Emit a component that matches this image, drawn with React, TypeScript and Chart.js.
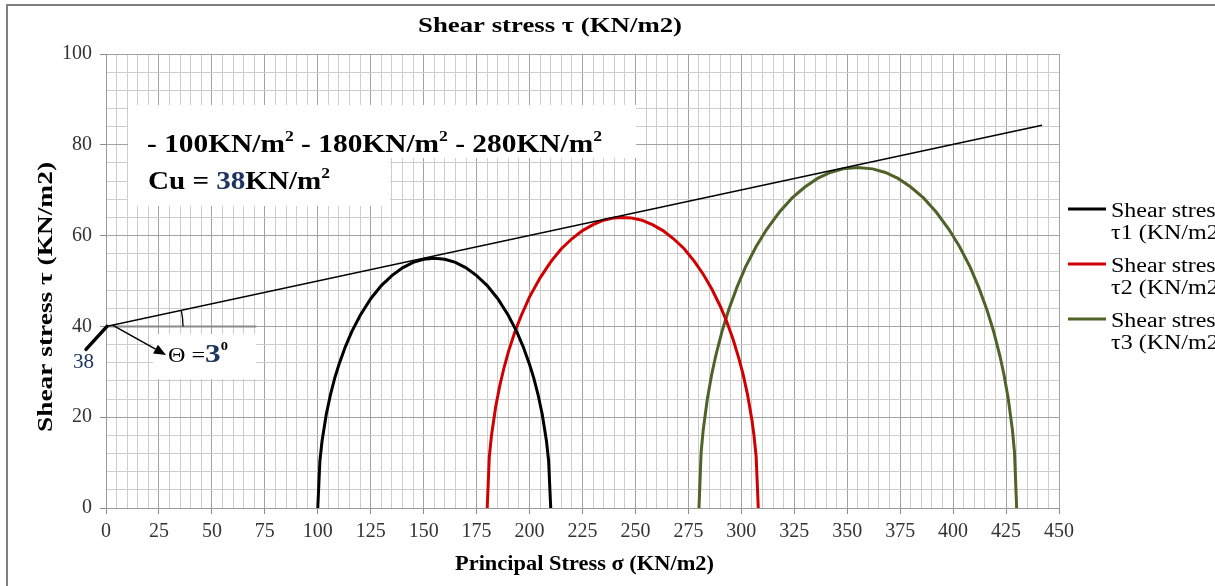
import React, { useEffect, useRef } from 'react';
import { Chart, registerables } from 'chart.js';

Chart.register(...registerables);

// ---------- data ----------
const xMin = 0;
const xMax = 450;
const yMin = 0;
const yMax = 100;
const xStep = 5;
const xMajorStep = 25;
const yStep = 4;
const yMajorStep = 20;

// Mohr-Coulomb failure envelope
const envelopeX = [0, 442];
const envelopeY = [40, 84.3];

// horizontal reference line at c
const refX = [0, 71];
const refY = [40, 40];

// Mohr circle 1 (sigma3 = 100)
const sigma1X = [100, 101, 102, 104, 106, 108, 110, 113, 116, 120, 125, 130, 135, 140, 145, 150, 155, 160, 165, 170, 175, 180, 185, 190, 194, 197, 200, 202, 204, 206, 208, 209, 210];
const tau1Y = [0, 10.4, 14.7, 20.6, 25.0, 28.6, 31.6, 35.5, 38.8, 42.4, 46.1, 49.0, 51.2, 52.9, 54.1, 54.8, 55.0, 54.8, 54.1, 52.9, 51.2, 49.0, 46.1, 42.4, 38.8, 35.5, 31.6, 28.6, 25.0, 20.6, 14.7, 10.4, 0];

// Mohr circle 2 (sigma3 = 180)
const sigma2X = [180, 181, 182, 184, 186, 188, 190, 193, 196, 200, 205, 210, 215, 220, 225, 230, 235, 240, 244, 248, 253, 258, 263, 268, 273, 278, 282, 286, 290, 293, 296, 299, 301, 303, 305, 306, 307, 308];
const tau2Y = [0, 11.3, 15.9, 22.3, 27.1, 31.0, 34.4, 38.7, 42.3, 46.5, 50.7, 54.2, 57.1, 59.3, 61.1, 62.4, 63.4, 63.9, 64.0, 63.9, 63.4, 62.4, 61.1, 59.3, 57.1, 54.2, 51.5, 48.3, 44.5, 41.2, 37.3, 32.7, 29.1, 24.8, 19.4, 15.9, 11.3, 0];

// Mohr circle 3 (sigma3 = 280)
const sigma3X = [280, 281, 282, 284, 286, 288, 291, 294, 298, 302, 307, 312, 318, 324, 330, 336, 342, 348, 355, 362, 368, 374, 380, 386, 392, 398, 403, 408, 412, 416, 419, 422, 424, 426, 428, 429, 430];
const tau3Y = [0, 12.2, 17.2, 24.2, 29.4, 33.7, 39.1, 43.6, 48.7, 53.1, 57.6, 61.4, 65.2, 68.3, 70.7, 72.6, 73.9, 74.7, 75.0, 74.7, 73.9, 72.6, 70.7, 68.3, 65.2, 61.4, 57.6, 53.1, 48.7, 43.6, 39.1, 33.7, 29.4, 24.2, 17.2, 12.2, 0];

const seriesLabels1 = ['Shear stress', 'τ1 (KN/m2)'];
const seriesLabels2 = ['Shear stress', 'τ2 (KN/m2)'];
const seriesLabels3 = ['Shear stress', 'τ3 (KN/m2)'];
const seriesColors = ['#000000', '#d00000', '#4f6228'];

const chartTitle = 'Shear stress τ (KN/m2)';
const xTitle = 'Principal Stress σ (KN/m2)';
const yTitle = 'Shear stress τ (KN/m2)';

// ---------- style ----------
const SERIF = '"Liberation Serif", "Times New Roman", Times, serif';
const NAVY = '#1f3560';

type Run = { text: string; font: string; color?: string; dy?: number };

function runsWidth(ctx: CanvasRenderingContext2D, runs: Run[]) {
  let w = 0;
  for (const r of runs) {
    ctx.font = r.font;
    w += ctx.measureText(r.text).width;
  }
  return w;
}

function drawRuns(ctx: CanvasRenderingContext2D, runs: Run[], x: number, y: number, stretch: number) {
  let cx = x;
  for (const r of runs) {
    ctx.save();
    ctx.font = r.font;
    ctx.fillStyle = r.color || '#000000';
    ctx.textAlign = 'left';
    ctx.textBaseline = 'alphabetic';
    const w = ctx.measureText(r.text).width;
    ctx.translate(cx, y + (r.dy || 0));
    ctx.scale(stretch, 1);
    ctx.fillText(r.text, 0, 0);
    ctx.restore();
    cx += w * stretch;
  }
}

function drawRunsFit(ctx: CanvasRenderingContext2D, runs: Run[], x: number, y: number, targetW: number) {
  const w = runsWidth(ctx, runs);
  drawRuns(ctx, runs, x, y, targetW / w);
}

const toPoints = (xs: number[], ys: number[]) => xs.map((x, i) => ({ x, y: ys[i] }));

const annotationPlugin = {
  id: 'mohrAnnotations',
  beforeDatasetsDraw(chart: any) {
    const ctx: CanvasRenderingContext2D = chart.ctx;
    ctx.save();
    ctx.fillStyle = '#ffffff';
    ctx.fillRect(128, 105, 508, 53);
    ctx.fillRect(128, 158, 262, 48);
    ctx.fillRect(153, 334, 103, 45);
    ctx.restore();
  },
  afterDatasetsDraw(chart: any) {
    const ctx: CanvasRenderingContext2D = chart.ctx;
    const xs = chart.scales.x;
    const ys = chart.scales.y;
    const ox = xs.getPixelForValue(envelopeX[0]);
    const oy = ys.getPixelForValue(envelopeY[0]);
    const ex = xs.getPixelForValue(envelopeX[1]);
    const ey = ys.getPixelForValue(envelopeY[1]);
    const ang = Math.atan2(ey - oy, ex - ox);

    ctx.save();
    // angle arc
    ctx.strokeStyle = '#000';
    ctx.lineWidth = 1.3;
    ctx.beginPath();
    ctx.arc(ox, oy, 77, ang, 0, false);
    ctx.stroke();

    // arrow to theta label
    const ax0 = ox + 7, ay0 = oy - 1;
    const ax1 = 166, ay1 = 355;
    const dir = Math.atan2(ay1 - ay0, ax1 - ax0);
    const hl = 12, hw = 5;
    const bx = ax1 - hl * Math.cos(dir), by = ay1 - hl * Math.sin(dir);
    ctx.lineWidth = 1.5;
    ctx.beginPath();
    ctx.moveTo(ax0, ay0);
    ctx.lineTo(bx, by);
    ctx.stroke();
    ctx.fillStyle = '#000';
    ctx.beginPath();
    ctx.moveTo(ax1, ay1);
    ctx.lineTo(bx + hw * Math.sin(dir), by - hw * Math.cos(dir));
    ctx.lineTo(bx - hw * Math.sin(dir), by + hw * Math.cos(dir));
    ctx.closePath();
    ctx.fill();

    // thick pointer to "38"
    ctx.lineWidth = 3.5;
    ctx.lineCap = 'round';
    ctx.beginPath();
    ctx.moveTo(ox + 1, oy);
    ctx.lineTo(ox - 20, oy + 23);
    ctx.stroke();
    ctx.restore();

    // "38"
    drawRuns(ctx, [{ text: '38', font: `20px ${SERIF}`, color: NAVY }], 73, 368, 1.05);

    // text boxes
    const B = `bold 25px ${SERIF}`;
    const S = `bold 15px ${SERIF}`;
    drawRunsFit(ctx, [
      { text: '- 100KN/m', font: B },
      { text: '2', font: S, dy: -11 },
      { text: ' - 180KN/m', font: B },
      { text: '2', font: S, dy: -11 },
      { text: ' - 280KN/m', font: B },
      { text: '2', font: S, dy: -11 },
    ], 147, 152, 455);
    drawRunsFit(ctx, [
      { text: 'Cu = ', font: B },
      { text: '38', font: B, color: NAVY },
      { text: 'KN/m', font: B },
      { text: '2', font: S, dy: -11 },
    ], 148, 189, 182);
    drawRunsFit(ctx, [
      { text: 'Θ =', font: `20px ${SERIF}` },
      { text: '3', font: `bold 26px ${SERIF}`, color: NAVY },
      { text: '0', font: `bold 12px ${SERIF}`, dy: -12 },
    ], 168, 362, 60);
  },
  afterDraw(chart: any) {
    const ctx: CanvasRenderingContext2D = chart.ctx;
    // outer frame
    ctx.save();
    ctx.strokeStyle = '#7f7f7f';
    ctx.lineWidth = 2;
    ctx.strokeRect(7, 5, 1400, 800);
    ctx.restore();

    const TB = `bold 21px ${SERIF}`;
    // title
    drawRunsFit(ctx, [{ text: chartTitle, font: TB }], 418, 32, 264);
    // x title
    drawRunsFit(ctx, [{ text: xTitle, font: TB }], 455, 570, 259);
    // y title
    ctx.save();
    ctx.translate(52, 432);
    ctx.rotate(-Math.PI / 2);
    drawRunsFit(ctx, [{ text: yTitle, font: TB }], 0, 0, 270);
    ctx.restore();

    // legend
    const legend = [seriesLabels1, seriesLabels2, seriesLabels3];
    const legendY = [209, 264, 319];
    const LF = `20px ${SERIF}`;
    legend.forEach((lines, i) => {
      const y = legendY[i];
      ctx.save();
      ctx.strokeStyle = seriesColors[i];
      ctx.lineWidth = 3;
      ctx.beginPath();
      ctx.moveTo(1068, y);
      ctx.lineTo(1106, y);
      ctx.stroke();
      ctx.restore();
      drawRuns(ctx, [{ text: lines[0], font: LF }], 1111, y + 8, 1.2);
      drawRuns(ctx, [{ text: lines[1], font: LF }], 1111, y + 30, 1.2);
    });
  },
};

export default function App() {
  const ref = useRef<HTMLCanvasElement | null>(null);

  useEffect(() => {
    document.body.style.margin = '0';
    const canvas = ref.current;
    if (!canvas) return;
    const tickFont = { family: SERIF, size: 20 };
    const MAJOR = '#a2a2a2';
    const MINOR = '#cdcdcd';
    const chart = new Chart(canvas, {
      type: 'scatter',
      data: {
        datasets: [
          {
            label: 'Envelope',
            data: toPoints(envelopeX, envelopeY),
            showLine: true,
            borderColor: '#000000',
            borderWidth: 1.5,
            pointRadius: 0,
          },
          {
            label: 'c line',
            data: toPoints(refX, refY),
            showLine: true,
            borderColor: '#8c8c8c',
            borderWidth: 2,
            pointRadius: 0,
          },
          {
            label: seriesLabels1.join(' '),
            data: toPoints(sigma1X, tau1Y),
            showLine: true,
            borderColor: seriesColors[0],
            borderWidth: 3,
            pointRadius: 0,
            tension: 0,
          },
          {
            label: seriesLabels2.join(' '),
            data: toPoints(sigma2X, tau2Y),
            showLine: true,
            borderColor: seriesColors[1],
            borderWidth: 3,
            pointRadius: 0,
            tension: 0,
          },
          {
            label: seriesLabels3.join(' '),
            data: toPoints(sigma3X, tau3Y),
            showLine: true,
            borderColor: seriesColors[2],
            borderWidth: 3,
            pointRadius: 0,
            tension: 0,
          },
        ],
      },
      options: {
        animation: false,
        responsive: false,
        layout: { padding: { left: 0, top: 54, right: 156, bottom: 0 } },
        plugins: {
          legend: { display: false },
          title: { display: false },
          tooltip: { enabled: false },
        },
        scales: {
          x: {
            type: 'linear',
            min: xMin,
            max: xMax,
            afterFit: (s: any) => { s.height = 78; },
            ticks: {
              stepSize: xStep,
              autoSkip: false,
              maxRotation: 0,
              minRotation: 0,
              padding: 6,
              font: tickFont,
              color: '#333333',
              callback: (v: any) => (Number(v) % xMajorStep === 0 ? String(v) : ''),
            },
            grid: {
              color: (c: any) => (c.tick && c.tick.value % xMajorStep === 0 ? MAJOR : MINOR),
              lineWidth: 1,
              tickLength: 6,
              tickColor: (c: any) => (c.tick && c.tick.value % xMajorStep === 0 ? '#8c8c8c' : 'rgba(0,0,0,0)'),
            },
            border: { color: '#9a9a9a', width: 1 },
          },
          y: {
            type: 'linear',
            min: yMin,
            max: yMax,
            afterFit: (s: any) => { s.width = 106; },
            ticks: {
              stepSize: yStep,
              autoSkip: false,
              padding: 8,
              font: tickFont,
              color: '#333333',
              callback: (v: any) => (Number(v) % yMajorStep === 0 ? String(v) : ''),
            },
            grid: {
              color: (c: any) => (c.tick && c.tick.value % yMajorStep === 0 ? MAJOR : MINOR),
              lineWidth: 1,
              tickLength: 6,
              tickColor: (c: any) => (c.tick && c.tick.value % yMajorStep === 0 ? '#8c8c8c' : 'rgba(0,0,0,0)'),
            },
            border: { color: '#9a9a9a', width: 1 },
          },
        },
      } as any,
      plugins: [annotationPlugin],
    });
    return () => chart.destroy();
  }, []);

  return (
    <div style={{ width: 1215, height: 586, overflow: 'hidden', position: 'relative', background: '#ffffff' }}>
      <canvas ref={ref} width={1215} height={586} style={{ display: 'block', width: 1215, height: 586 }} />
    </div>
  );
}
